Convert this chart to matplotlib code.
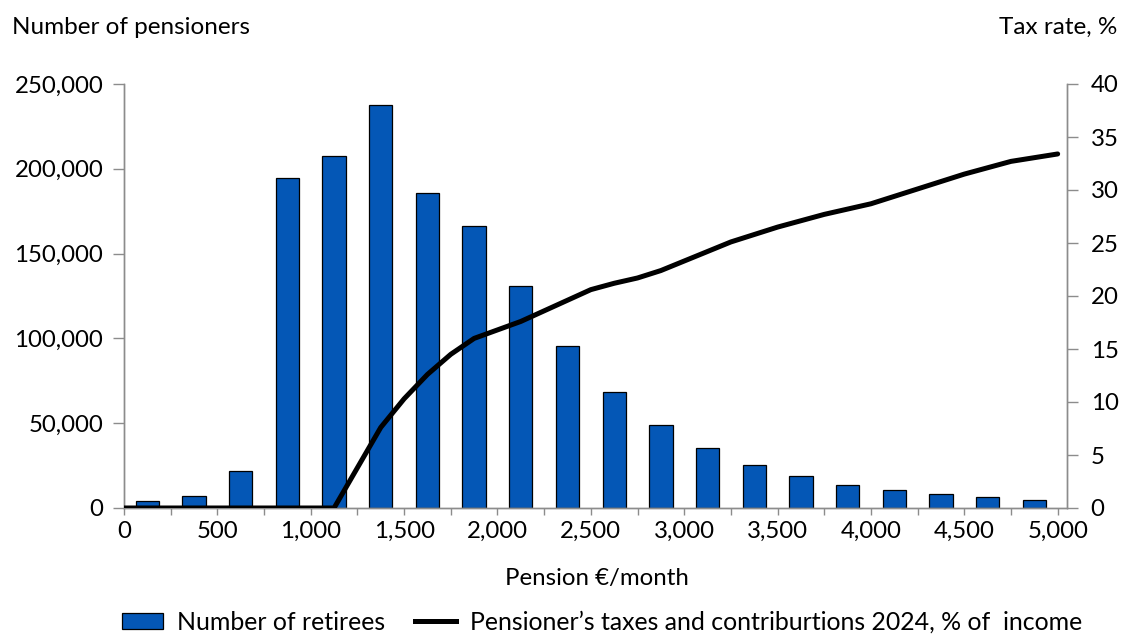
import matplotlib
matplotlib.use("Agg")
import matplotlib.pyplot as plt
from matplotlib.lines import Line2D
from matplotlib.patches import Patch
from matplotlib.ticker import FuncFormatter

plt.rcParams['font.family'] = ['Lato', 'DejaVu Sans']

# Data
bin_centres = [125, 375, 625, 875, 1125, 1375, 1625, 1875, 2125, 2375,
               2625, 2875, 3125, 3375, 3625, 3875, 4125, 4375, 4625, 4875]
retirees = [4300, 7100, 21600, 194600, 207300, 237600, 185700, 166400, 131000, 95500,
            68200, 49100, 35400, 25500, 18700, 13700, 10600, 8250, 6500, 4900]

tax_x = [0, 250, 500, 750, 1000, 1125, 1250, 1375, 1500, 1625, 1750, 1875, 2000,
         2125, 2250, 2375, 2500, 2625, 2750, 2875, 3000, 3250, 3500, 3750, 4000,
         4250, 4500, 4750, 5000]
tax_rate = [0, 0, 0, 0, 0, 0, 3.8, 7.6, 10.3, 12.6, 14.5, 16.0, 16.8,
            17.6, 18.6, 19.6, 20.6, 21.2, 21.7, 22.4, 23.3, 25.1, 26.5, 27.7, 28.7,
            30.1, 31.5, 32.7, 33.4]

x_ticks = list(range(0, 5001, 250))
x_labels = [f"{v:,}" if v % 500 == 0 else "" for v in x_ticks]
left_ticks = [0, 50000, 100000, 150000, 200000, 250000]
right_ticks = [0, 5, 10, 15, 20, 25, 30, 35, 40]

bar_color = '#0457B6'
spine_color = '#8C8C8C'
fs = 17.3

fig = plt.figure(figsize=(11.21, 6.34), dpi=100)
ax = fig.add_axes([124/1121, 1-508/634, (1067-124)/1121, (508-84)/634])
ax2 = ax.twinx()

ax.bar(bin_centres, retirees, width=125, color=bar_color, edgecolor='black', linewidth=0.9, zorder=2)
ax2.plot(tax_x, tax_rate, color='black', linewidth=3.6, solid_capstyle='round', solid_joinstyle='round', zorder=3)

ax.set_xlim(0, 5050)
ax.set_ylim(0, 250000)
ax2.set_ylim(0, 40)

ax.set_xticks(x_ticks)
ax.set_xticklabels(x_labels)
ax.set_yticks(left_ticks)
ax.yaxis.set_major_formatter(FuncFormatter(lambda v, p: f"{int(v):,}"))
ax2.set_yticks(right_ticks)

for a in (ax, ax2):
    a.spines['top'].set_visible(False)
    for s in ('left', 'right', 'bottom'):
        a.spines[s].set_color(spine_color)
        a.spines[s].set_linewidth(1.0)

ax.tick_params(axis='y', direction='out', length=8, width=1, color=spine_color, labelsize=fs, pad=7)
ax.tick_params(axis='x', direction='out', length=5, width=1, color=spine_color, labelsize=fs, pad=4)
ax2.tick_params(axis='y', direction='out', length=8, width=1, color=spine_color, labelsize=fs, pad=9)

fig.text(12/1121, 1-27/634, "Number of pensioners", fontsize=17.5, ha='left', va='center')
fig.text(1117/1121, 1-27/634, "Tax rate, %", fontsize=17.5, ha='right', va='center')
fig.text(597/1121, 1-578/634, "Pension €/month", fontsize=fs, ha='center', va='center')

handles = [Patch(facecolor=bar_color, edgecolor='black', linewidth=0.9),
           Line2D([0], [0], color='black', linewidth=3.6)]
labels = ["Number of retirees", "Pensioner’s taxes and contriburtions 2024, % of  income"]
fig.legend(handles, labels, loc='center', bbox_to_anchor=(602/1121, 1-622/634), ncol=2,
           frameon=False, fontsize=17.9, handlelength=1.65, handleheight=0.6,
           handletextpad=0.55, columnspacing=1.2, borderaxespad=0, borderpad=0)

fig.savefig("out.png", dpi=100)
